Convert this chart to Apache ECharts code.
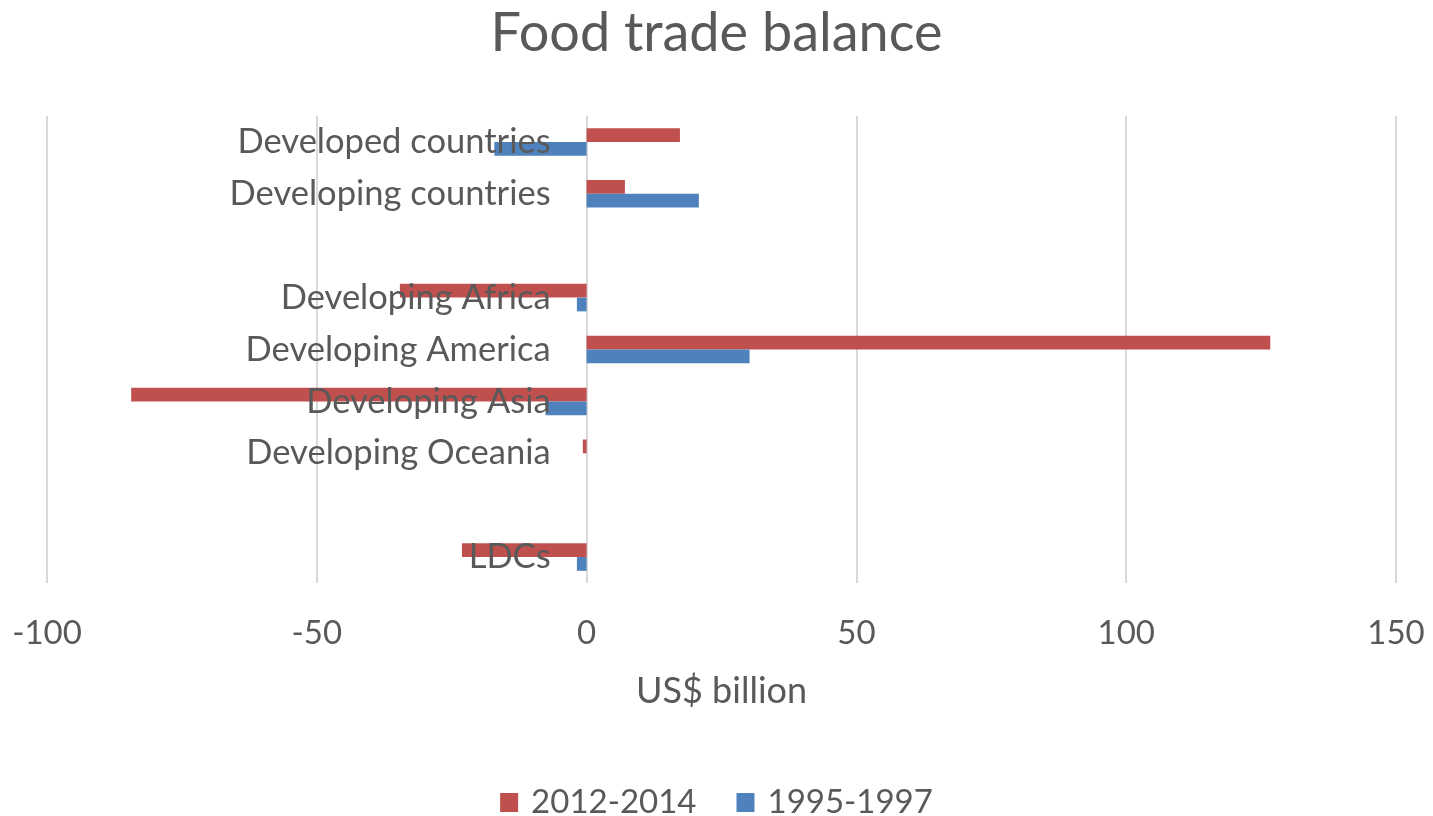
<!DOCTYPE html>
<html>
<head>
<meta charset="utf-8">
<title>Food trade balance</title>
<script src="https://cdn.jsdelivr.net/npm/echarts@6/dist/echarts.min.js"></script>
<style>
  html, body { margin: 0; padding: 0; background: #ffffff; }
  #chart { width: 1433px; height: 816px; }
</style>
</head>
<body>
<div id="chart"></div>
<script>
// Regions, top to bottom; empty strings leave a blank row between groups
const categories = [
  'Developed countries',
  'Developing countries',
  '',
  'Developing Africa',
  'Developing America',
  'Developing Asia',
  'Developing Oceania',
  '',
  'LDCs'
];

// Food trade balance, US$ billion
const balance2012_2014 = [17.3, 7.1, null, -34.6, 126.7, -84.4, -0.7, null, -23.1];
const balance1995_1997 = [-17.1, 20.8, null, -1.8, 30.2, -7.6, 0, null, -1.8];

const seriesNames = ['2012-2014', '1995-1997'];
const xTicks = { min: -100, max: 150, interval: 50 };

const FONT = 'Lato, "Open Sans", sans-serif';
const TEXT = '#595959';
const GRID_LINE = '#d9d9d9';

const WIDTH = 1433;
const GRID = { left: 47, right: 37, top: 116, bottom: 233 };
// shift the category axis from the left edge onto the value axis' zero
const plotWidth = WIDTH - GRID.left - GRID.right;
const zeroOffset = -(0 - xTicks.min) / (xTicks.max - xTicks.min) * plotWidth;

const chart = echarts.init(document.getElementById('chart'), null, { renderer: 'canvas' });

chart.setOption({
  animation: false,
  backgroundColor: '#ffffff',
  title: {
    text: 'Food trade balance',
    left: 'center',
    top: 2,
    textStyle: { fontFamily: FONT, fontSize: 54, fontWeight: 'normal', color: TEXT }
  },
  legend: {
    top: 781,
    left: 'center',
    itemGap: 40,
    itemWidth: 18,
    itemHeight: 19,
    icon: 'rect',
    textStyle: { fontFamily: FONT, fontSize: 33, color: TEXT, padding: [0, 0, 0, 8] },
    data: seriesNames
  },
  grid: Object.assign({ containLabel: false, outerBoundsMode: 'none' }, GRID),
  xAxis: {
    type: 'value',
    min: xTicks.min,
    max: xTicks.max,
    interval: xTicks.interval,
    name: 'US$ billion',
    nameLocation: 'middle',
    nameGap: 90,
    nameTextStyle: { fontFamily: FONT, fontSize: 36, color: TEXT },
    axisLine: { show: false },
    axisTick: { show: false },
    axisLabel: { fontFamily: FONT, fontSize: 33, color: TEXT, margin: 34 },
    splitLine: { show: true, lineStyle: { color: GRID_LINE, width: 2 } }
  },
  yAxis: {
    type: 'category',
    inverse: true,
    position: 'left',
    offset: zeroOffset,
    data: categories,
    z: 5,
    axisLine: { show: false, onZero: false },
    axisTick: { show: false },
    splitLine: { show: false },
    axisLabel: { fontFamily: FONT, fontSize: 34.5, color: TEXT, margin: 36 }
  },
  series: [
    {
      name: seriesNames[0],
      type: 'bar',
      data: balance2012_2014,
      barGap: '0%',
      barCategoryGap: '47%',
      itemStyle: { color: '#c0504d' }
    },
    {
      name: seriesNames[1],
      type: 'bar',
      data: balance1995_1997,
      barGap: '0%',
      barCategoryGap: '47%',
      itemStyle: { color: '#4f81bd' }
    }
  ]
});
</script>
</body>
</html>
